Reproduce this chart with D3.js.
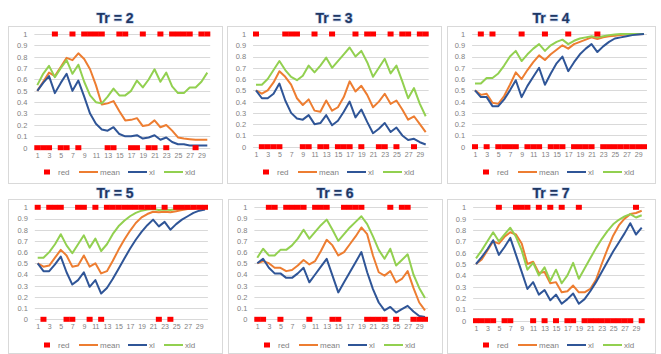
<!DOCTYPE html>
<html>
<head>
<meta charset="utf-8">
<script src="https://cdn.jsdelivr.net/npm/d3@7/dist/d3.min.js"></script>
<style>
  body { margin: 0; background: #fff; }
  svg { display: block; font-family: "Liberation Sans", Arial, sans-serif; }
</style>
</head>
<body>
<svg id="chart" width="661" height="354"></svg>
<script>
// ---- shared axis values ----
const days = d3.range(1, 31);
const dayTicks = [1, 3, 5, 7, 9, 11, 13, 15, 17, 19, 21, 23, 25, 27, 29];
const yTicks = [0, 0.1, 0.2, 0.3, 0.4, 0.5, 0.6, 0.7, 0.8, 0.9, 1];
const legendNames = ["red", "mean", "xl", "xld"];
const titles = ["Tr = 2", "Tr = 3", "Tr = 4", "Tr = 5", "Tr = 6", "Tr = 7"];

// ---- Tr = 2 ----
const red2  = [0,0,0,1,0,0,1,0,1,1,1,1,0,0,1,1,0,0,1,0,0,1,0,1,1,1,1,0,1,1];
const mean2 = [0.50,0.58,0.66,0.63,0.71,0.79,0.77,0.83,0.78,0.69,0.55,0.38,0.39,0.41,0.32,0.24,0.245,0.26,0.19,0.20,0.24,0.18,0.20,0.15,0.09,0.08,0.075,0.07,0.07,0.07];
const xl2   = [0.50,0.57,0.63,0.48,0.57,0.65,0.50,0.59,0.45,0.30,0.21,0.16,0.15,0.18,0.12,0.10,0.10,0.11,0.08,0.09,0.11,0.07,0.09,0.05,0.03,0.03,0.02,0.02,0.02,0.02];
const xld2  = [0.55,0.65,0.72,0.62,0.70,0.77,0.65,0.73,0.58,0.46,0.40,0.39,0.45,0.52,0.46,0.46,0.50,0.59,0.53,0.60,0.69,0.58,0.66,0.54,0.48,0.48,0.53,0.53,0.58,0.66];

// ---- Tr = 3 ----
const red3  = [1,0,0,0,0,1,1,1,0,0,1,0,0,1,0,0,0,1,0,1,1,0,0,1,0,1,1,0,1,1];
const mean3 = [0.50,0.47,0.50,0.57,0.67,0.62,0.55,0.43,0.37,0.42,0.32,0.31,0.41,0.32,0.35,0.44,0.58,0.49,0.54,0.46,0.35,0.40,0.47,0.38,0.41,0.33,0.24,0.27,0.20,0.13];
const xl3   = [0.50,0.43,0.43,0.47,0.56,0.41,0.30,0.25,0.24,0.28,0.20,0.21,0.28,0.19,0.23,0.31,0.40,0.26,0.33,0.22,0.12,0.16,0.21,0.13,0.17,0.10,0.06,0.07,0.04,0.02];
const xld3  = [0.55,0.55,0.60,0.68,0.76,0.68,0.62,0.59,0.63,0.72,0.66,0.72,0.79,0.70,0.76,0.82,0.88,0.80,0.85,0.75,0.62,0.70,0.78,0.65,0.72,0.58,0.43,0.52,0.38,0.27];

// ---- Tr = 4 ----
const red4  = [0,1,0,1,0,0,0,0,1,0,0,0,1,0,0,0,1,0,0,0,0,1,0,0,0,0,0,0,0,0];
const mean4 = [0.50,0.46,0.47,0.39,0.38,0.45,0.55,0.66,0.60,0.68,0.75,0.81,0.77,0.82,0.86,0.90,0.87,0.91,0.93,0.95,0.97,0.955,0.97,0.98,0.985,0.99,0.995,0.997,0.998,1.0];
const xl4   = [0.50,0.44,0.44,0.36,0.36,0.42,0.50,0.59,0.44,0.54,0.62,0.70,0.55,0.65,0.74,0.80,0.67,0.75,0.82,0.87,0.91,0.84,0.89,0.93,0.96,0.97,0.98,0.99,0.995,1.0];
const xld4  = [0.56,0.56,0.61,0.61,0.65,0.72,0.80,0.85,0.76,0.82,0.87,0.91,0.85,0.90,0.93,0.95,0.91,0.94,0.96,0.97,0.98,0.97,0.98,0.99,0.995,1.0,1.0,1.0,1.0,1.0];

// ---- Tr = 5 ----
const red5  = [1,0,1,1,1,0,0,1,1,0,1,0,1,1,1,1,1,1,1,1,1,0,1,0,1,1,1,1,1,1];
const mean5 = [0.50,0.47,0.48,0.55,0.62,0.57,0.47,0.48,0.57,0.47,0.50,0.41,0.43,0.52,0.62,0.71,0.79,0.86,0.91,0.94,0.96,0.955,0.96,0.955,0.965,0.975,0.985,0.99,0.995,0.998];
const xl5   = [0.50,0.43,0.43,0.49,0.56,0.42,0.31,0.35,0.42,0.29,0.35,0.23,0.28,0.36,0.45,0.54,0.63,0.71,0.78,0.84,0.89,0.83,0.87,0.80,0.85,0.89,0.92,0.95,0.97,0.98];
const xld5  = [0.55,0.55,0.60,0.67,0.76,0.66,0.59,0.67,0.75,0.64,0.72,0.61,0.67,0.76,0.83,0.88,0.92,0.95,0.97,0.98,0.985,0.975,0.98,0.975,0.985,0.99,0.995,0.997,0.998,1.0];

// ---- Tr = 6 ----
const red6  = [0,0,1,1,0,1,1,1,1,0,1,1,1,0,0,1,1,1,1,0,0,0,0,1,0,1,1,0,0,0];
const mean6 = [0.50,0.52,0.50,0.46,0.46,0.43,0.44,0.48,0.53,0.49,0.52,0.61,0.71,0.66,0.57,0.60,0.67,0.74,0.82,0.76,0.57,0.42,0.39,0.43,0.33,0.36,0.43,0.28,0.15,0.08];
const xl6   = [0.50,0.54,0.46,0.41,0.41,0.37,0.37,0.41,0.46,0.33,0.40,0.47,0.54,0.39,0.24,0.33,0.42,0.51,0.60,0.42,0.27,0.15,0.08,0.11,0.06,0.09,0.12,0.07,0.03,0.02];
const xld6  = [0.55,0.63,0.57,0.57,0.62,0.62,0.66,0.72,0.80,0.72,0.78,0.84,0.89,0.80,0.70,0.76,0.82,0.87,0.92,0.85,0.74,0.62,0.54,0.63,0.48,0.53,0.58,0.40,0.28,0.19];

// ---- Tr = 7 ----
const red7  = [0,0,0,0,1,0,0,1,1,1,0,1,0,1,0,1,0,0,1,0,0,0,0,0,0,0,0,0,1,0];
const mean7 = [0.50,0.54,0.62,0.70,0.68,0.74,0.78,0.76,0.68,0.50,0.52,0.42,0.43,0.33,0.34,0.25,0.26,0.31,0.25,0.25,0.28,0.36,0.50,0.63,0.75,0.84,0.90,0.94,0.95,0.97];
const xl7   = [0.50,0.56,0.63,0.71,0.58,0.65,0.73,0.58,0.43,0.28,0.34,0.23,0.27,0.18,0.23,0.15,0.19,0.24,0.15,0.19,0.26,0.34,0.43,0.52,0.61,0.69,0.77,0.86,0.76,0.82];
const xld7  = [0.55,0.62,0.70,0.78,0.70,0.76,0.82,0.74,0.62,0.45,0.51,0.40,0.47,0.35,0.45,0.33,0.40,0.51,0.37,0.46,0.55,0.64,0.72,0.79,0.85,0.89,0.92,0.94,0.91,0.93];

const colors = { red: "#ff0000", mean: "#ed7d31", xl: "#2f5597", xld: "#92d050" };

// panel frames: box, first/last category x, y of 1 and 0, title centre y
const panels = [
  { title: titles[0], red: red2, mean: mean2, xl: xl2, xld: xld2, box: [8, 26, 214, 157],   px: [37.3, 207.3], py: [34, 147.7],   ty: 18 },
  { title: titles[1], red: red3, mean: mean3, xl: xl3, xld: xld3, box: [227, 26, 214, 157], px: [256, 425.7],  py: [34, 146.7],   ty: 18 },
  { title: titles[2], red: red4, mean: mean4, xl: xl4, xld: xld4, box: [447, 26, 208, 157], px: [475, 644],    py: [34, 146.7],   ty: 18 },
  { title: titles[3], red: red5, mean: mean5, xl: xl5, xld: xld5, box: [8, 199, 214, 154],  px: [37.7, 205],   py: [207.3, 319.3], ty: 193 },
  { title: titles[4], red: red6, mean: mean6, xl: xl6, xld: xld6, box: [228, 199, 214, 154],px: [257.3, 425],  py: [207.3, 319.3], ty: 193 },
  { title: titles[5], red: red7, mean: mean7, xl: xl7, xld: xld7, box: [447, 199, 208, 154],px: [476, 641.7],  py: [207.3, 320.7], ty: 193 }
];

const svg = d3.select("#chart");
const fmt = d => String(+d.toFixed(1));

panels.forEach(p => {
  const g = svg.append("g");
  const [bx, by, bw, bh] = p.box;

  // chart frame
  g.append("rect")
    .attr("x", bx + 0.5).attr("y", by + 0.5)
    .attr("width", bw).attr("height", bh)
    .attr("fill", "#fff").attr("stroke", "#d9d9d9").attr("stroke-width", 1);

  const x = d3.scalePoint().domain(days).range(p.px);
  const step = x.step();
  const y = d3.scaleLinear().domain([0, 1]).range([p.py[1], p.py[0]]);
  const left = p.px[0] - step / 2, right = p.px[1] + step / 2;

  // horizontal gridlines
  g.append("g").selectAll("line").data(yTicks).join("line")
    .attr("x1", left).attr("x2", right)
    .attr("y1", d => Math.round(y(d)) + 0.5).attr("y2", d => Math.round(y(d)) + 0.5)
    .attr("stroke", "#d9d9d9").attr("stroke-width", 1);

  // value axis
  const ya = g.append("g").attr("transform", `translate(${left},0)`)
    .call(d3.axisLeft(y).tickValues(yTicks).tickSize(0).tickPadding(7).tickFormat(fmt));
  ya.select(".domain").remove();
  ya.selectAll("text").attr("fill", "#7f7f7f").attr("font-size", 7.5);

  // category axis
  const xa = g.append("g").attr("transform", `translate(0,${p.py[1]})`)
    .call(d3.axisBottom(x).tickValues(dayTicks).tickSize(0).tickPadding(5));
  xa.select(".domain").remove();
  xa.selectAll("text").attr("fill", "#7f7f7f").attr("font-size", 7);

  // lines
  const line = d3.line().x((d, i) => x(days[i])).y(d => y(d));
  [["mean", p.mean], ["xld", p.xld], ["xl", p.xl]].forEach(([k, vals]) => {
    g.append("path").datum(vals)
      .attr("d", line)
      .attr("fill", "none")
      .attr("stroke", colors[k])
      .attr("stroke-width", 2)
      .attr("stroke-linejoin", "round");
  });

  // red square markers
  g.append("g").selectAll("rect").data(p.red).join("rect")
    .attr("x", (d, i) => x(days[i]) - 3)
    .attr("y", d => y(d) - 2.5)
    .attr("width", 6).attr("height", 5)
    .attr("fill", colors.red);

  // legend
  const ly = by + 146;
  const lg = g.append("g").attr("font-size", 8).attr("fill", "#7f7f7f");
  lg.append("rect").attr("x", bx + 36).attr("y", ly - 2.5).attr("width", 6).attr("height", 5).attr("fill", colors.red);
  lg.append("text").attr("x", bx + 50).attr("y", ly).attr("dy", "0.35em").text(legendNames[0]);
  [[legendNames[1], 71], [legendNames[2], 120], [legendNames[3], 156]].forEach(([name, off]) => {
    lg.append("line").attr("x1", bx + off).attr("x2", bx + off + 19)
      .attr("y1", ly).attr("y2", ly)
      .attr("stroke", colors[name]).attr("stroke-width", 2);
    lg.append("text").attr("x", bx + off + 21).attr("y", ly).attr("dy", "0.35em").text(name);
  });

  // title
  svg.append("text")
    .attr("x", bx + bw / 2).attr("y", p.ty).attr("dy", "0.35em")
    .attr("text-anchor", "middle")
    .attr("font-size", 14).attr("font-weight", "bold")
    .attr("fill", "#1f3864")
    .attr("stroke", "#b4c7e7").attr("stroke-width", 1.2)
    .attr("paint-order", "stroke")
    .text(p.title);
});
</script>
</body>
</html>
